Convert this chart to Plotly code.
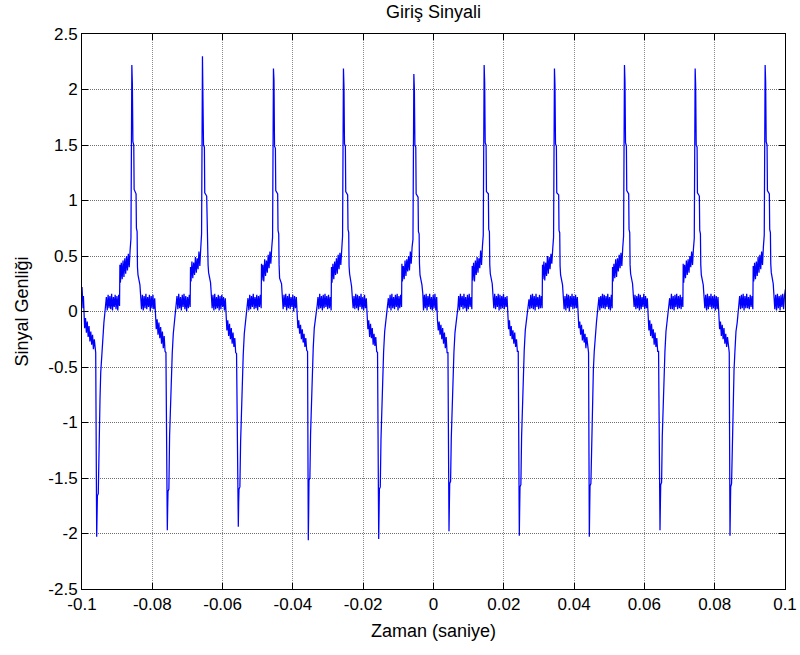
import plotly.graph_objects as go

# ---- data ----
# times (s) of the negative spike that starts each cycle
NEG_T = [-0.09582, -0.07573, -0.05553, -0.03562, -0.01559,
         0.00441, 0.02441, 0.04433, 0.06444, 0.08435]

# sample times (ms) inside one cycle, measured from its negative spike
OFFSETS_MS = [
    0.0, 0.1, 0.2, 0.45, 0.65, 0.95, 1.15, 1.4, 1.7, 2.05, 2.3, 2.55,
    2.75, 3.0, 3.25, 3.5, 3.75, 4.0, 4.25, 4.5, 4.75, 5.0, 5.25, 5.5, 5.75, 6.0, 6.25, 6.5,
    6.6, 6.75, 7.0, 7.25, 7.5, 7.75, 8.0, 8.25, 8.5, 8.75, 9.0, 9.25, 9.5,
    9.75, 10.0, 10.15, 10.3, 10.55, 10.65, 11.2, 11.3, 11.5, 11.6, 11.75, 12.3, 12.55,
    12.75, 13.0, 13.25, 13.5, 13.75, 14.0, 14.25, 14.5, 14.75, 15.0, 15.25, 15.5, 15.75, 16.0, 16.25, 16.5,
    16.7, 16.95, 17.2, 17.45, 17.7, 17.95, 18.2, 18.45, 18.7, 18.95, 19.2, 19.45, 19.7,
]

# signal before the first cycle
HEAD_T = [-0.1000, -0.09990, -0.09980, -0.09970, -0.09960, -0.09950, -0.09925, -0.09900,
          -0.09875, -0.09850, -0.09825, -0.09800, -0.09775, -0.09750, -0.09725, -0.09700,
          -0.09675, -0.09650, -0.09625, -0.09610]
HEAD_Y = [0.22, 0.06, 0.18, 0.03, 0.14, -0.06, -0.15, -0.06, -0.19, -0.09, -0.23, -0.13,
          -0.27, -0.18, -0.30, -0.21, -0.34, -0.25, -0.36, -0.37]

CYCLE_1 = [-2.03, -1.80, -1.66, -1.64, -1.17, -0.78, -0.55, -0.42, -0.22, -0.10, -0.02, 0.04,
           0.13, 0.01, 0.15, 0.03, 0.14, 0.02, 0.16, 0.01, 0.13, 0.04, 0.15, 0.02, 0.14, 0.01, 0.15, 0.05,
           0.42, 0.26, 0.44, 0.29, 0.46, 0.31, 0.48, 0.34, 0.50, 0.37, 0.52, 0.40, 0.55,
           0.66, 2.22, 2.05, 1.53, 1.50, 1.10, 1.06, 0.75, 0.72, 0.40, 0.33, 0.24, 0.15,
           0.02, 0.15, 0.01, 0.14, 0.03, 0.16, 0.02, 0.13, 0.04, 0.15, 0.00, 0.14, 0.03, 0.15, 0.02, 0.12,
           -0.05, -0.16, -0.07, -0.21, -0.10, -0.24, -0.14, -0.29, -0.18, -0.33, -0.22, -0.36, -0.37]
CYCLE_2 = [-1.97, -1.78, -1.62, -1.60, -1.12, -0.80, -0.52, -0.38, -0.20, -0.08, 0.00, 0.05,
           0.14, 0.02, 0.16, 0.03, 0.13, 0.01, 0.15, 0.04, 0.16, 0.02, 0.14, 0.00, 0.13, 0.03, 0.15, 0.04,
           0.40, 0.27, 0.45, 0.30, 0.44, 0.33, 0.49, 0.35, 0.48, 0.38, 0.54, 0.41, 0.56,
           0.70, 2.30, 2.02, 1.50, 1.48, 1.07, 1.04, 0.73, 0.70, 0.42, 0.35, 0.26, 0.14,
           0.03, 0.15, 0.01, 0.16, 0.02, 0.13, 0.03, 0.15, 0.01, 0.14, 0.02, 0.15, 0.04, 0.13, 0.01, 0.12,
           -0.06, -0.17, -0.08, -0.22, -0.11, -0.25, -0.15, -0.29, -0.19, -0.32, -0.24, -0.37, -0.38]
CYCLE_3 = [-1.94, -1.72, -1.60, -1.58, -1.18, -0.77, -0.50, -0.39, -0.20, -0.11, -0.01, 0.06,
           0.12, 0.01, 0.15, 0.02, 0.14, 0.04, 0.16, 0.02, 0.13, 0.03, 0.15, 0.01, 0.14, 0.04, 0.15, 0.03,
           0.43, 0.28, 0.42, 0.27, 0.47, 0.32, 0.46, 0.35, 0.51, 0.39, 0.54, 0.43, 0.57,
           0.67, 2.19, 2.08, 1.49, 1.47, 1.09, 1.06, 0.73, 0.70, 0.42, 0.30, 0.25, 0.16,
           0.02, 0.15, 0.04, 0.16, 0.01, 0.14, 0.03, 0.16, 0.02, 0.13, 0.04, 0.15, 0.00, 0.14, 0.03, 0.13,
           -0.06, -0.15, -0.08, -0.20, -0.12, -0.25, -0.16, -0.28, -0.20, -0.32, -0.24, -0.35, -0.36]
CYCLE_4 = [-2.06, -1.82, -1.52, -1.50, -1.10, -0.75, -0.53, -0.33, -0.15, -0.08, 0.01, 0.06,
           0.13, 0.02, 0.16, 0.03, 0.14, 0.01, 0.15, 0.03, 0.16, 0.04, 0.14, 0.02, 0.15, 0.03, 0.13, 0.01,
           0.40, 0.26, 0.43, 0.29, 0.45, 0.33, 0.48, 0.34, 0.51, 0.38, 0.53, 0.42, 0.55,
           0.68, 2.19, 2.03, 1.51, 1.49, 1.08, 1.05, 0.74, 0.71, 0.41, 0.34, 0.23, 0.15,
           0.03, 0.14, 0.02, 0.16, 0.03, 0.15, 0.01, 0.14, 0.04, 0.16, 0.02, 0.13, 0.01, 0.15, 0.03, 0.12,
           -0.05, -0.16, -0.08, -0.23, -0.11, -0.24, -0.15, -0.30, -0.20, -0.31, -0.23, -0.36, -0.37]
CYCLE_5 = [-2.05, -1.83, -1.60, -1.58, -1.15, -0.78, -0.51, -0.36, -0.18, -0.09, -0.02, 0.05,
           0.12, 0.03, 0.15, 0.01, 0.16, 0.03, 0.13, 0.02, 0.15, 0.04, 0.16, 0.01, 0.14, 0.03, 0.15, 0.04,
           0.43, 0.27, 0.41, 0.29, 0.46, 0.32, 0.47, 0.36, 0.50, 0.37, 0.54, 0.43, 0.58,
           0.65, 2.14, 2.00, 1.50, 1.48, 1.06, 1.03, 0.72, 0.70, 0.43, 0.33, 0.24, 0.16,
           0.01, 0.15, 0.03, 0.16, 0.01, 0.14, 0.04, 0.16, 0.02, 0.13, 0.01, 0.15, 0.03, 0.16, 0.01, 0.13,
           -0.07, -0.17, -0.09, -0.21, -0.12, -0.25, -0.15, -0.29, -0.19, -0.33, -0.23, -0.37, -0.37]
CYCLE_6 = [-1.98, -1.76, -1.55, -1.53, -1.14, -0.79, -0.54, -0.37, -0.19, -0.10, -0.01, 0.04,
           0.14, 0.01, 0.16, 0.04, 0.14, 0.02, 0.16, 0.03, 0.13, 0.00, 0.15, 0.02, 0.16, 0.04, 0.13, 0.02,
           0.41, 0.28, 0.44, 0.27, 0.46, 0.33, 0.49, 0.35, 0.48, 0.39, 0.55, 0.42, 0.58,
           0.69, 2.22, 2.06, 1.52, 1.50, 1.08, 1.06, 0.74, 0.72, 0.42, 0.34, 0.25, 0.14,
           0.03, 0.16, 0.02, 0.14, 0.04, 0.16, 0.01, 0.15, 0.02, 0.14, 0.03, 0.16, 0.02, 0.13, 0.04, 0.14,
           -0.06, -0.16, -0.08, -0.22, -0.13, -0.25, -0.17, -0.29, -0.19, -0.32, -0.25, -0.36, -0.36]
CYCLE_7 = [-2.02, -1.79, -1.58, -1.56, -1.13, -0.77, -0.52, -0.35, -0.17, -0.09, 0.00, 0.05,
           0.11, 0.02, 0.15, 0.03, 0.16, 0.02, 0.14, 0.01, 0.16, 0.04, 0.13, 0.02, 0.15, 0.03, 0.14, 0.03,
           0.42, 0.29, 0.45, 0.28, 0.44, 0.32, 0.50, 0.34, 0.49, 0.38, 0.52, 0.43, 0.56,
           0.67, 2.19, 2.04, 1.51, 1.49, 1.07, 1.05, 0.73, 0.71, 0.41, 0.33, 0.24, 0.15,
           0.02, 0.14, 0.01, 0.16, 0.03, 0.15, 0.00, 0.14, 0.04, 0.16, 0.02, 0.14, 0.03, 0.15, 0.03, 0.13,
           -0.05, -0.15, -0.09, -0.21, -0.12, -0.26, -0.16, -0.28, -0.20, -0.33, -0.23, -0.35, -0.37]
CYCLE_8 = [-2.03, -1.80, -1.57, -1.55, -1.16, -0.78, -0.53, -0.36, -0.18, -0.09, -0.01, 0.05,
           0.13, 0.01, 0.14, 0.03, 0.16, 0.03, 0.15, 0.02, 0.14, 0.04, 0.16, 0.02, 0.13, 0.01, 0.15, 0.03,
           0.40, 0.27, 0.43, 0.30, 0.47, 0.31, 0.48, 0.36, 0.51, 0.39, 0.53, 0.41, 0.57,
           0.68, 2.22, 2.07, 1.52, 1.49, 1.09, 1.06, 0.74, 0.71, 0.42, 0.34, 0.25, 0.15,
           0.04, 0.15, 0.02, 0.14, 0.03, 0.16, 0.01, 0.15, 0.02, 0.13, 0.04, 0.16, 0.02, 0.14, 0.03, 0.12,
           -0.06, -0.17, -0.08, -0.22, -0.11, -0.24, -0.16, -0.30, -0.19, -0.32, -0.24, -0.36, -0.36]
CYCLE_9 = [-1.97, -1.75, -1.56, -1.54, -1.12, -0.76, -0.52, -0.36, -0.18, -0.09, 0.00, 0.06,
           0.12, 0.02, 0.16, 0.02, 0.14, 0.01, 0.15, 0.04, 0.16, 0.02, 0.14, 0.03, 0.15, 0.02, 0.13, 0.04,
           0.43, 0.26, 0.42, 0.30, 0.46, 0.33, 0.47, 0.35, 0.50, 0.40, 0.54, 0.42, 0.56,
           0.66, 2.19, 2.03, 1.50, 1.48, 1.07, 1.04, 0.73, 0.70, 0.42, 0.33, 0.24, 0.15,
           0.03, 0.15, 0.01, 0.16, 0.02, 0.14, 0.04, 0.16, 0.02, 0.14, 0.03, 0.15, 0.01, 0.14, 0.02, 0.13,
           -0.05, -0.16, -0.09, -0.22, -0.12, -0.25, -0.15, -0.29, -0.20, -0.32, -0.23, -0.35, -0.37]
CYCLE_10 = [-2.02, -1.79, -1.58, -1.55, -1.14, -0.77, -0.53, -0.36, -0.18, -0.10, -0.01, 0.05,
            0.14, 0.02, 0.15, 0.03, 0.16, 0.01, 0.14, 0.03, 0.16, 0.03, 0.13, 0.02, 0.15, 0.04, 0.14, 0.02,
            0.41, 0.27, 0.44, 0.29, 0.45, 0.32, 0.49, 0.35, 0.51, 0.38, 0.54, 0.42, 0.58,
            0.69, 2.22, 2.06, 1.53, 1.50, 1.09, 1.06, 0.74, 0.71, 0.43, 0.35, 0.25, 0.16,
            0.02, 0.15, 0.01, 0.16, 0.03, 0.14, 0.01, 0.15, 0.04, 0.16, 0.02, 0.14, 0.20]

CYCLES = [CYCLE_1, CYCLE_2, CYCLE_3, CYCLE_4, CYCLE_5,
          CYCLE_6, CYCLE_7, CYCLE_8, CYCLE_9, CYCLE_10]

X_TICKS = [-0.1, -0.08, -0.06, -0.04, -0.02, 0, 0.02, 0.04, 0.06, 0.08, 0.1]
X_TICK_LABELS = ["-0.1", "-0.08", "-0.06", "-0.04", "-0.02", "0", "0.02", "0.04", "0.06", "0.08", "0.1"]
Y_TICKS = [-2.5, -2, -1.5, -1, -0.5, 0, 0.5, 1, 1.5, 2, 2.5]
Y_TICK_LABELS = ["-2.5", "-2", "-1.5", "-1", "-0.5", "0", "0.5", "1", "1.5", "2", "2.5"]

# ---- assemble the trace ----
t = list(HEAD_T)
y = list(HEAD_Y)
for t0, vals in zip(NEG_T, CYCLES):
    for off, v in zip(OFFSETS_MS, vals):
        t.append(t0 + off / 1000.0)
        y.append(v)

FONT = "Arial, 'Liberation Sans', Helvetica, sans-serif"

fig = go.Figure()
fig.add_trace(go.Scatter(x=t, y=y, mode="lines",
                         line=dict(color="#0000ff", width=1.25), showlegend=False,
                         hoverinfo="skip"))

axis_common = dict(
    showline=True, linecolor="black", linewidth=1, mirror="ticks",
    ticks="inside", ticklen=6, tickcolor="black", tickwidth=1,
    showgrid=True, griddash="1px,1px", gridwidth=1, zeroline=False,
    automargin=False,
    tickfont=dict(family=FONT, size=17, color="black"),
)

fig.update_xaxes(range=[-0.1, 0.1], tickvals=X_TICKS, ticktext=X_TICK_LABELS,
                 gridcolor="#8a8a8a",
                 title=dict(text="Zaman (saniye)", font=dict(family=FONT, size=18, color="black"),
                            standoff=10),
                 **axis_common)
fig.update_yaxes(range=[-2.5, 2.5], tickvals=Y_TICKS, ticktext=Y_TICK_LABELS,
                 gridcolor="#6e6e6e",
                 title=dict(text="Sinyal Genliği", font=dict(family=FONT, size=18, color="black"),
                            standoff=15),
                 **axis_common)

fig.update_layout(
    width=800, height=655,
    margin=dict(l=82, r=15, t=34, b=66, autoexpand=False),
    paper_bgcolor="white", plot_bgcolor="white",
    font=dict(family=FONT, size=17, color="black"),
    title=dict(text="Giriş Sinyali", x=0.5, xref="paper", xanchor="center",
               y=1 - 12 / 655, yref="container", yanchor="middle",
               font=dict(family=FONT, size=18, color="black")),
    showlegend=False,
)

fig.write_html("out.html")
